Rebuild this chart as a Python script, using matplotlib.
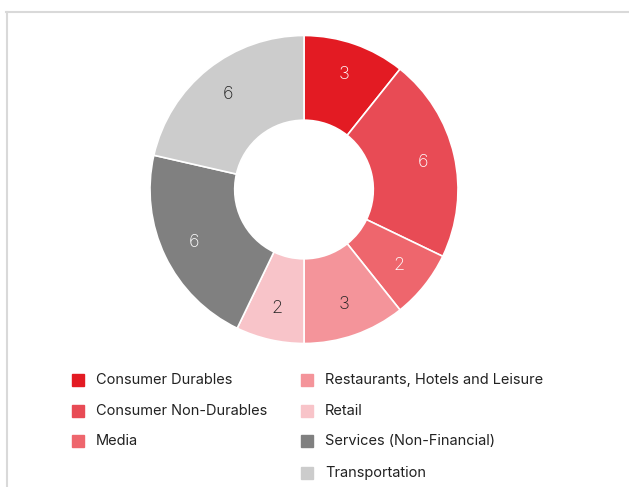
import matplotlib
matplotlib.use("Agg")
import matplotlib.pyplot as plt
from matplotlib.lines import Line2D
from matplotlib.patches import Rectangle
import numpy as np

categories = ["Consumer Durables", "Consumer Non-Durables", "Media",
              "Restaurants, Hotels and Leisure", "Retail",
              "Services (Non-Financial)", "Transportation"]
values = [3, 6, 2, 3, 2, 6, 6]
colors = ["#e31b23", "#e84b55", "#ee666d", "#f4949a", "#f8c4c9", "#808080", "#cccccc"]
label_colors = ["white", "white", "white", "#222222", "#222222", "white", "#222222"]

W, H = 629, 487
fig = plt.figure(figsize=(W / 100, H / 100), dpi=100)
plt.rcParams['font.family'] = ['Inter', 'DejaVu Sans']

# frame lines (top and left)
fig.add_artist(Line2D([6 / W, 1], [1 - 12 / H, 1 - 12 / H], color="#d9d9d9", lw=1.5,
                      transform=fig.transFigure))
fig.add_artist(Line2D([7 / W, 7 / W], [0, 1 - 12 / H], color="#d9d9d9", lw=1.5,
                      transform=fig.transFigure))

cx, cy, R = 304, 189.5, 154
ax = fig.add_axes([(cx - R) / W, 1 - (cy + R) / H, 2 * R / W, 2 * R / H])
wedges, _ = ax.pie(values, colors=colors, startangle=90, counterclock=False,
                   radius=1.0, wedgeprops=dict(width=1 - 0.45, edgecolor="white", linewidth=1.2))
ax.set_xlim(-1, 1)
ax.set_ylim(-1, 1)
ax.set_aspect("equal")
ax.axis("off")

total = sum(values)
cum = 0
for v, lc in zip(values, label_colors):
    mid = 90 - (cum + v / 2) / total * 360
    cum += v
    r = 0.79
    ax.text(r * np.cos(np.radians(mid)), r * np.sin(np.radians(mid)), str(v),
            ha="center", va="center", fontsize=13, color=lc, fontweight="light")

# legend
lax = fig.add_axes([0, 0, 1, 1])
lax.set_xlim(0, W)
lax.set_ylim(H, 0)
lax.axis("off")
col_x = [72, 301]
row_y = [380, 411, 441, 473]
positions = [(0, 0), (0, 1), (0, 2), (1, 0), (1, 1), (1, 2), (1, 3)]
for (c, r), name, col in zip(positions, categories, colors):
    x = col_x[c]
    y = row_y[r]
    lax.add_patch(Rectangle((x, y - 6), 12, 12, color=col))
    lax.text(x + 24, y, name, ha="left", va="center", fontsize=10.5, color="#222222")

fig.savefig("out.png", dpi=100)
